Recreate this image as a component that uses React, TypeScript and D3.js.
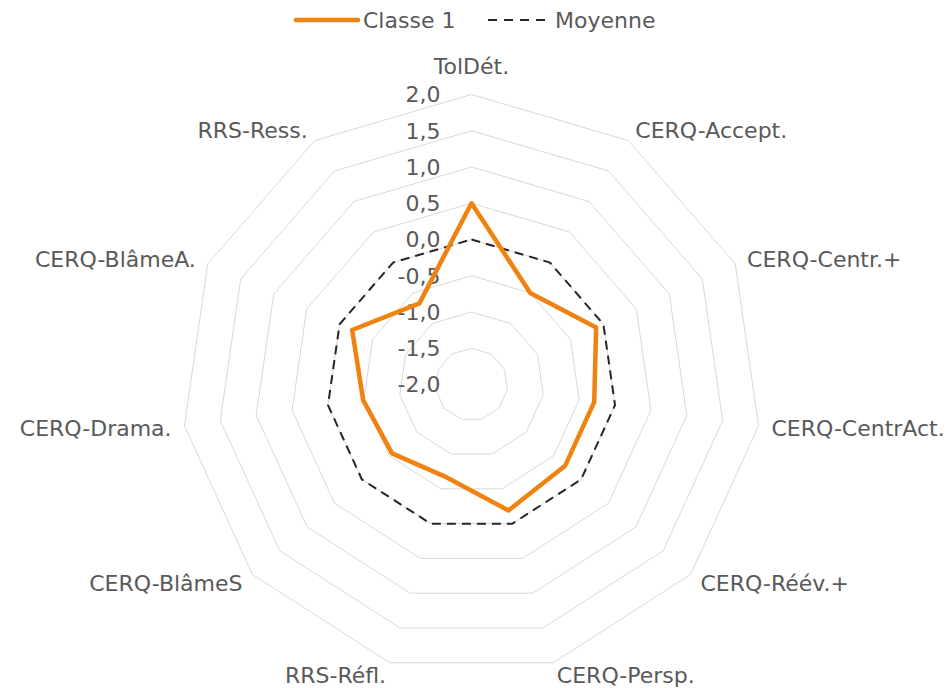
import React from "react";
import * as d3 from "d3";

const categories = [
  "TolDét.",
  "CERQ-Accept.",
  "CERQ-Centr.+",
  "CERQ-CentrAct.",
  "CERQ-Réév.+",
  "CERQ-Persp.",
  "RRS-Réfl.",
  "CERQ-BlâmeS",
  "CERQ-Drama.",
  "CERQ-BlâmeA.",
  "RRS-Ress.",
];
const classe1 = [0.5, -0.5, -0.11, -0.29, -0.29, -0.19, -0.68, -0.55, -0.49, -0.19, -0.67];
const moyenne = [0, 0, 0, 0, 0, 0, 0, 0, 0, 0, 0];
const ticks = [-2, -1.5, -1, -0.5, 0, 0.5, 1, 1.5, 2];
const seriesNames = ["Classe 1", "Moyenne"];

const W = 947;
const H = 688;
const cx = 471.5;
const cy = 384.5;
const R = 290;
const FONT = "'DejaVu Sans', sans-serif";
const TEXT = "#595959";
const ORANGE = "#F0820F";

export default function App() {
  const r = d3.scaleLinear().domain([-2, 2]).range([0, R]);
  const n = categories.length;
  const angle = d3.scaleLinear().domain([0, n]).range([0, 2 * Math.PI]);
  const pt = (i: number, rad: number): [number, number] => [
    cx + rad * Math.sin(angle(i)),
    cy - rad * Math.cos(angle(i)),
  ];
  const line = d3.line<[number, number]>().curve(d3.curveLinearClosed);

  const ringPath = (v: number) => line(categories.map((_, i) => pt(i, r(v))));
  const seriesPath = (vals: number[]) => line(vals.map((v, i) => pt(i, r(v))));

  const fmt = (v: number) => d3.format(".1f")(v).replace(".", ",").replace("−", "-");

  return (
    <svg
      width={W}
      height={H}
      style={{ position: "absolute", left: 0, top: 0, background: "#fff" }}
      fontFamily={FONT}
    >
      <rect width={W} height={H} fill="#fff" />
      {/* grid rings */}
      {ticks.slice(1).map((t) => (
        <path key={t} d={ringPath(t) || ""} fill="none" stroke="#D9D9D9" strokeWidth={1} />
      ))}
      {/* tick labels */}
      {ticks.map((t) => (
        <text
          key={"t" + t}
          x={cx - 31}
          y={cy - r(t)}
          dy="0.36em"
          textAnchor="end"
          fontSize={22}
          fill={TEXT}
        >
          {fmt(t)}
        </text>
      ))}
      {/* category labels */}
      {categories.map((c, i) => {
        const [x, y] = pt(i, R + 13);
        const s = Math.sin(angle(i));
        const anchor = Math.abs(s) < 0.01 ? "middle" : s > 0 ? "start" : "end";
        const isTop = Math.abs(s) < 0.01;
        return (
          <text
            key={c}
            x={x}
            y={isTop ? y - 8 : y}
            dy={isTop ? "0" : "0.36em"}
            textAnchor={anchor}
            fontSize={22}
            fill={TEXT}
          >
            {c}
          </text>
        );
      })}
      {/* series */}
      <path
        d={seriesPath(moyenne) || ""}
        fill="none"
        stroke="#262626"
        strokeWidth={2}
        strokeDasharray="9,6"
      />
      <path
        d={seriesPath(classe1) || ""}
        fill="none"
        stroke={ORANGE}
        strokeWidth={4.5}
        strokeLinejoin="round"
      />
      {/* legend */}
      <line x1={296} x2={358} y1={20} y2={20} stroke={ORANGE} strokeWidth={4.5} strokeLinecap="round" />
      <text x={363} y={20} dy="0.36em" fontSize={22} fill={TEXT}>
        {seriesNames[0]}
      </text>
      <line x1={488} x2={545} y1={20} y2={20} stroke="#262626" strokeWidth={2} strokeDasharray="9,7" />
      <text x={555} y={20} dy="0.36em" fontSize={22} fill={TEXT}>
        {seriesNames[1]}
      </text>
    </svg>
  );
}
